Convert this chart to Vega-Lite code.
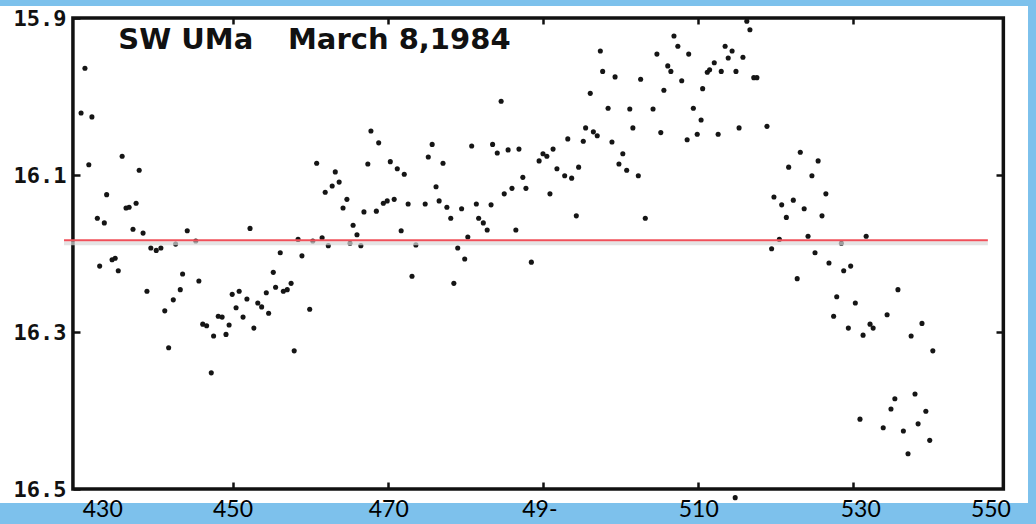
{
  "$schema": "https://vega.github.io/schema/vega-lite/v6.json",
  "width": 1028,
  "height": 497,
  "autosize": "none",
  "padding": {"left": 0, "top": 6, "right": 8, "bottom": 21},
  "background": "#7DC1EC",
  "config": {"view": {"fill": "white", "stroke": null}, "axis": {"grid": false, "title": null}},
  "datasets": {
    "obs": [
      {"t":430.4,"m":16.021},{"t":430.9,"m":15.964},{"t":431.4,"m":16.087},{"t":431.8,"m":16.026},{"t":432.5,"m":16.155},
      {"t":432.8,"m":16.216},{"t":433.4,"m":16.161},{"t":433.7,"m":16.125},{"t":434.4,"m":16.208},{"t":434.8,"m":16.206},
      {"t":435.2,"m":16.222},{"t":435.7,"m":16.076},{"t":436.2,"m":16.142},{"t":436.6,"m":16.141},{"t":437.1,"m":16.169},
      {"t":437.5,"m":16.136},{"t":437.9,"m":16.094},{"t":438.4,"m":16.174},{"t":438.9,"m":16.248},{"t":439.4,"m":16.193},
      {"t":440.1,"m":16.196},{"t":440.7,"m":16.193},{"t":441.2,"m":16.273},{"t":441.7,"m":16.320},{"t":442.3,"m":16.259},
      {"t":442.6,"m":16.188},{"t":443.2,"m":16.246},{"t":443.5,"m":16.226},{"t":444.1,"m":16.171},{"t":445.2,"m":16.184},
      {"t":445.6,"m":16.235},{"t":446.1,"m":16.290},{"t":446.6,"m":16.292},{"t":447.2,"m":16.352},{"t":447.5,"m":16.305},
      {"t":448.1,"m":16.280},{"t":448.6,"m":16.281},{"t":449.1,"m":16.303},{"t":449.5,"m":16.291},{"t":449.9,"m":16.252},
      {"t":450.4,"m":16.269},{"t":450.8,"m":16.248},{"t":451.3,"m":16.281},{"t":451.8,"m":16.258},{"t":452.2,"m":16.168},
      {"t":452.7,"m":16.295},{"t":453.2,"m":16.263},{"t":453.7,"m":16.268},{"t":454.3,"m":16.250},{"t":454.6,"m":16.276},
      {"t":455.2,"m":16.224},{"t":455.5,"m":16.243},{"t":456.1,"m":16.199},{"t":456.5,"m":16.248},{"t":457.0,"m":16.246},
      {"t":457.5,"m":16.238},{"t":457.9,"m":16.324},{"t":458.4,"m":16.182},{"t":458.9,"m":16.203},{"t":459.9,"m":16.271},
      {"t":460.3,"m":16.184},{"t":460.8,"m":16.085},{"t":461.5,"m":16.180},{"t":461.9,"m":16.122},{"t":462.3,"m":16.190},
      {"t":462.8,"m":16.114},{"t":463.2,"m":16.096},{"t":463.7,"m":16.109},{"t":464.2,"m":16.142},{"t":464.7,"m":16.131},
      {"t":465.1,"m":16.187},{"t":465.5,"m":16.164},{"t":466.0,"m":16.176},{"t":466.5,"m":16.190},{"t":466.9,"m":16.147},
      {"t":467.4,"m":16.086},{"t":467.8,"m":16.044},{"t":468.5,"m":16.146},{"t":468.8,"m":16.059},{"t":469.4,"m":16.136},
      {"t":469.9,"m":16.133},{"t":470.3,"m":16.083},{"t":470.8,"m":16.131},{"t":471.2,"m":16.092},{"t":471.7,"m":16.171},
      {"t":472.1,"m":16.099},{"t":472.6,"m":16.137},{"t":473.1,"m":16.229},{"t":473.6,"m":16.189},{"t":474.8,"m":16.137},
      {"t":475.2,"m":16.077},{"t":475.7,"m":16.061},{"t":476.2,"m":16.115},{"t":476.6,"m":16.133},{"t":477.1,"m":16.085},
      {"t":477.6,"m":16.141},{"t":478.1,"m":16.155},{"t":478.5,"m":16.238},{"t":479.0,"m":16.193},{"t":479.5,"m":16.143},
      {"t":479.9,"m":16.207},{"t":480.3,"m":16.179},{"t":480.8,"m":16.063},{"t":481.4,"m":16.137},{"t":481.7,"m":16.155},
      {"t":482.3,"m":16.161},{"t":482.8,"m":16.170},{"t":483.3,"m":16.138},{"t":483.5,"m":16.061},{"t":484.1,"m":16.072},
      {"t":484.6,"m":16.006},{"t":485.0,"m":16.124},{"t":485.5,"m":16.068},{"t":486.0,"m":16.117},{"t":486.5,"m":16.170},
      {"t":486.9,"m":16.067},{"t":487.4,"m":16.103},{"t":487.8,"m":16.117},{"t":488.5,"m":16.211},{"t":489.5,"m":16.082},
      {"t":490.0,"m":16.073},{"t":490.5,"m":16.076},{"t":490.9,"m":16.124},{"t":491.3,"m":16.067},{"t":491.8,"m":16.092},
      {"t":492.8,"m":16.101},{"t":493.2,"m":16.054},{"t":493.7,"m":16.104},{"t":494.3,"m":16.152},{"t":494.6,"m":16.090},
      {"t":495.2,"m":16.057},{"t":495.5,"m":16.040},{"t":496.1,"m":15.996},{"t":496.5,"m":16.045},{"t":497.0,"m":16.050},
      {"t":497.4,"m":15.942},{"t":497.7,"m":15.968},{"t":498.4,"m":16.015},{"t":498.9,"m":16.058},{"t":499.3,"m":15.975},
      {"t":499.8,"m":16.086},{"t":500.3,"m":16.073},{"t":500.8,"m":16.094},{"t":501.2,"m":16.016},{"t":501.6,"m":16.040},
      {"t":502.3,"m":16.101},{"t":502.6,"m":15.978},{"t":503.2,"m":16.155},{"t":504.2,"m":16.016},{"t":504.7,"m":15.946},
      {"t":505.2,"m":16.046},{"t":505.6,"m":15.992},{"t":506.1,"m":15.961},{"t":506.5,"m":15.968},{"t":506.9,"m":15.923},
      {"t":507.4,"m":15.936},{"t":507.9,"m":15.980},{"t":508.6,"m":16.055},{"t":508.8,"m":15.946},{"t":509.4,"m":16.015},
      {"t":509.9,"m":16.048},{"t":510.4,"m":16.030},{"t":510.6,"m":15.990},{"t":511.2,"m":15.969},{"t":511.5,"m":15.966},
      {"t":512.1,"m":15.957},{"t":512.6,"m":16.048},{"t":513.0,"m":15.968},{"t":513.5,"m":15.936},{"t":513.9,"m":15.951},
      {"t":514.4,"m":15.942},{"t":514.8,"m":16.511},{"t":514.9,"m":15.968},{"t":515.3,"m":16.040},{"t":515.8,"m":15.950},
      {"t":516.3,"m":15.904},{"t":516.7,"m":15.915},{"t":517.2,"m":15.976},{"t":517.6,"m":15.976},{"t":518.9,"m":16.038},
      {"t":519.5,"m":16.194},{"t":519.8,"m":16.128},{"t":520.5,"m":16.182},{"t":520.8,"m":16.138},{"t":521.4,"m":16.154},
      {"t":521.7,"m":16.090},{"t":522.3,"m":16.132},{"t":522.8,"m":16.232},{"t":523.2,"m":16.071},{"t":523.7,"m":16.143},
      {"t":524.2,"m":16.178},{"t":524.7,"m":16.101},{"t":525.1,"m":16.199},{"t":525.5,"m":16.082},{"t":526.0,"m":16.152},
      {"t":526.5,"m":16.124},{"t":526.9,"m":16.212},{"t":527.5,"m":16.280},{"t":527.9,"m":16.255},{"t":528.5,"m":16.187},
      {"t":528.8,"m":16.222},{"t":529.4,"m":16.295},{"t":529.7,"m":16.216},{"t":530.3,"m":16.263},{"t":530.9,"m":16.411},
      {"t":531.3,"m":16.304},{"t":531.7,"m":16.178},{"t":532.2,"m":16.290},{"t":532.6,"m":16.295},{"t":533.9,"m":16.422},
      {"t":534.4,"m":16.278},{"t":534.9,"m":16.398},{"t":535.4,"m":16.385},{"t":535.8,"m":16.246},{"t":536.5,"m":16.426},
      {"t":537.1,"m":16.455},{"t":537.5,"m":16.305},{"t":538.0,"m":16.379},{"t":538.4,"m":16.417},{"t":538.9,"m":16.289},
      {"t":539.4,"m":16.401},{"t":539.9,"m":16.438},{"t":540.3,"m":16.324}
    ],
    "frame": [{"x1": 429.35, "x2": 549.4, "y1": 15.9, "y2": 16.5}],
    "ref": [{"t1": 428.2, "t2": 547.4, "m": 16.183}],
    "title": [{"t": 435.2, "m": 15.928, "label": "SW UMa"}, {"t": 457.1, "m": 15.928, "label": "March 8,1984"}],
    "xlabels": [
      {"t": 433.2, "m": 16.527, "label": "430"},
      {"t": 450.0, "m": 16.527, "label": "450"},
      {"t": 470.1, "m": 16.527, "label": "470"},
      {"t": 489.6, "m": 16.527, "label": "49-"},
      {"t": 510.1, "m": 16.527, "label": "510"},
      {"t": 531.0, "m": 16.527, "label": "530"},
      {"t": 547.8, "m": 16.527, "label": "550"}
    ]
  },
  "layer": [
    {
      "data": {"name": "frame"},
      "mark": {"type": "rect", "fill": null, "stroke": "#111", "strokeWidth": 3.5},
      "encoding": {
        "x": {"field": "x1", "type": "quantitative",
              "scale": {"domain": [419.94, 552.58], "nice": false, "zero": false},
              "axis": {"orient": "top", "offset": -12, "values": [450, 470, 490, 510, 530], "tickSize": -6, "tickWidth": 2.5, "tickColor": "#111", "labels": false, "domain": false, "title": null}},
        "x2": {"field": "x2"},
        "y": {"field": "y1", "type": "quantitative",
              "scale": {"domain": [15.8847, 16.5178], "nice": false, "zero": false, "reverse": true},
              "axis": {"orient": "right", "offset": -24, "values": [16.1, 16.3], "tickSize": -8, "tickWidth": 2.5, "tickColor": "#111", "labels": false, "domain": false, "title": null}},
        "y2": {"field": "y2"}
      }
    },
    {
      "data": {"name": "obs"},
      "mark": {"type": "circle", "size": 26, "color": "#151515", "opacity": 1},
      "encoding": {
        "x": {"field": "t", "type": "quantitative",
              "scale": {"domain": [419.94, 552.58], "nice": false, "zero": false},
              "axis": {"orient": "bottom", "offset": -15, "values": [450, 470, 490, 510, 530], "tickSize": -6, "tickWidth": 2.5, "tickColor": "#111", "labels": false, "domain": false, "title": null}},
        "y": {"field": "m", "type": "quantitative",
              "scale": {"domain": [15.8847, 16.5178], "nice": false, "zero": false, "reverse": true},
              "axis": {"orient": "left", "offset": -73, "values": [15.9, 16.1, 16.3, 16.5], "format": ".1f", "tickSize": -7, "tickWidth": 2.5, "tickColor": "#111", "domain": false, "title": null,
                       "labelFont": "DejaVu Sans Mono", "labelFontWeight": "bold", "labelFontSize": 22, "labelColor": "#111", "labelPadding": 14, "labelOverlap": false, "labelFlush": false}}
      }
    },
    {
      "data": {"name": "ref"},
      "mark": {"type": "rule", "color": "#d8d8d8", "strokeWidth": 4, "yOffset": 3, "opacity": 0.7},
      "encoding": {
        "x": {"field": "t1", "type": "quantitative", "scale": {"domain": [419.94, 552.58], "nice": false, "zero": false}, "axis": null},
        "x2": {"field": "t2"},
        "y": {"field": "m", "type": "quantitative", "scale": {"domain": [15.8847, 16.5178], "nice": false, "zero": false, "reverse": true}, "axis": null}
      }
    },
    {
      "data": {"name": "ref"},
      "mark": {"type": "rule", "color": "#F0505A", "strokeWidth": 2},
      "encoding": {
        "x": {"field": "t1", "type": "quantitative", "scale": {"domain": [419.94, 552.58], "nice": false, "zero": false}, "axis": null},
        "x2": {"field": "t2"},
        "y": {"field": "m", "type": "quantitative", "scale": {"domain": [15.8847, 16.5178], "nice": false, "zero": false, "reverse": true}, "axis": null}
      }
    },
    {
      "data": {"name": "title"},
      "mark": {"type": "text", "align": "left", "baseline": "middle", "font": "DejaVu Sans", "fontWeight": "bold", "fontSize": 29, "color": "#111"},
      "encoding": {
        "x": {"field": "t", "type": "quantitative", "scale": {"domain": [419.94, 552.58], "nice": false, "zero": false}, "axis": null},
        "y": {"field": "m", "type": "quantitative", "scale": {"domain": [15.8847, 16.5178], "nice": false, "zero": false, "reverse": true}, "axis": null},
        "text": {"field": "label"}
      }
    },
    {
      "data": {"name": "xlabels"},
      "mark": {"type": "text", "align": "center", "baseline": "middle", "font": "Lato", "fontSize": 23, "color": "#000"},
      "encoding": {
        "x": {"field": "t", "type": "quantitative", "scale": {"domain": [419.94, 552.58], "nice": false, "zero": false}, "axis": null},
        "y": {"field": "m", "type": "quantitative", "scale": {"domain": [15.8847, 16.5178], "nice": false, "zero": false, "reverse": true}, "axis": null},
        "text": {"field": "label"}
      }
    }
  ],
  "resolve": {"axis": {"x": "independent", "y": "independent"}}
}
